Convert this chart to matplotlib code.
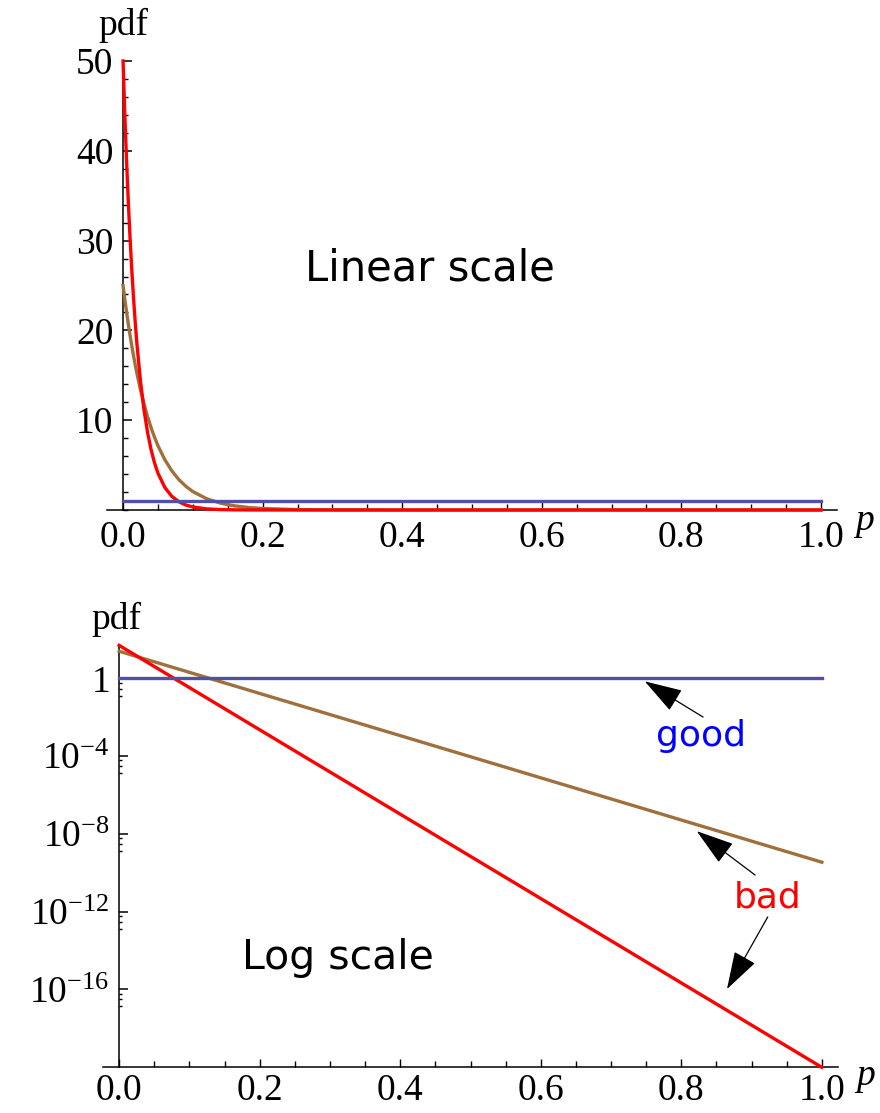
import numpy as np
import matplotlib
matplotlib.use("Agg")
from matplotlib import pyplot as plt
from matplotlib.ticker import MultipleLocator, FixedLocator, NullFormatter

# Sample points of the three densities
p_vals = [0.0, 0.0025, 0.005, 0.0075, 0.01, 0.0125, 0.015, 0.0175, 0.02, 0.025,
          0.03, 0.035, 0.04, 0.045, 0.05, 0.06, 0.07, 0.08, 0.09, 0.10,
          0.12, 0.14, 0.16, 0.18, 0.20, 0.25, 0.30, 0.50, 0.75, 1.0]
pdf_red = [50.0, 44.12, 38.94, 34.36, 30.33, 26.76, 23.62, 20.84, 18.39, 14.33,
           11.16, 8.69, 6.77, 5.27, 4.10, 2.49, 1.51, 0.916, 0.555, 0.337,
           0.124, 0.0456, 0.0168, 6.17e-3, 2.27e-3, 1.86e-4, 1.53e-5, 6.94e-10, 2.59e-15, 9.64e-21]
pdf_brown = [25.0, 23.48, 22.06, 20.73, 19.47, 18.29, 17.18, 16.14, 15.16, 13.38,
             11.81, 10.42, 9.20, 8.12, 7.16, 5.58, 4.35, 3.38, 2.64, 2.05,
             1.245, 0.755, 0.458, 0.278, 0.168, 0.0483, 0.0138, 9.32e-5, 1.80e-7, 3.47e-10]
pdf_blue = [1.0] * len(p_vals)

lin_ticks = [10, 20, 30, 40, 50]
log_ticks = [1e-16, 1e-12, 1e-8, 1e-4, 1.0]
log_labels = [r'$10^{-16}$', r'$10^{-12}$', r'$10^{-8}$', r'$10^{-4}$', r'$1$']
x_ticks = [0.0, 0.2, 0.4, 0.6, 0.8, 1.0]

RED = '#ff0000'
BROWN = '#a0703c'
BLUE = '#5050aa'

plt.rcParams['mathtext.fontset'] = 'custom'
plt.rcParams['mathtext.rm'] = 'Liberation Serif'
plt.rcParams['mathtext.it'] = 'Liberation Serif:italic'

W, H = 880, 1113
fig = plt.figure(figsize=(W / 100, H / 100), dpi=100)

serif = 'Liberation Serif'
tick_fs = 27
lw = 2.4


def style_axes(ax, xpad):
    for s in ['top', 'right']:
        ax.spines[s].set_visible(False)
    ax.spines['left'].set_position(('data', 0))
    for s in ['left', 'bottom']:
        ax.spines[s].set_linewidth(1.1)
    ax.set_xlim(-0.023, 1.023)
    ax.set_xticks(x_ticks)
    ax.set_xticklabels([f'{t:.1f}' for t in x_ticks], fontfamily=serif, fontsize=tick_fs)
    ax.xaxis.set_minor_locator(MultipleLocator(0.05))
    ax.tick_params(axis='x', which='major', direction='in', length=5.5, width=1.0,
                   pad=xpad, colors='black')
    ax.tick_params(axis='x', which='minor', direction='in', length=4, width=1.0)
    ax.tick_params(axis='y', which='major', direction='in', length=6.5, width=1.1,
                   pad=7, labelsize=tick_fs)
    ax.tick_params(axis='y', which='minor', direction='in', length=3.5, width=1.0)
    for lab in ax.get_yticklabels():
        lab.set_fontfamily(serif)


# Top panel: linear scale
ax1 = fig.add_axes([107 / W, (H - 510) / H, 730 / W, 449 / H])
ax1.plot(p_vals, pdf_brown, color=BROWN, lw=lw, clip_on=False, zorder=3)
ax1.plot(p_vals, pdf_red, color=RED, lw=lw, clip_on=False, zorder=3)
ax1.plot(p_vals, pdf_blue, color=BLUE, lw=lw, clip_on=False, zorder=4)
ax1.set_ylim(0, 50)
ax1.set_yticks(lin_ticks)
ax1.set_yticklabels([str(t) for t in lin_ticks], fontfamily=serif, fontsize=tick_fs)
ax1.yaxis.set_minor_locator(MultipleLocator(2))
style_axes(ax1, 7.5)
ax1.text(0.0, 52.9, 'pdf', fontfamily=serif, fontsize=tick_fs, ha='center', va='baseline',
         clip_on=False)
ax1.text(1.062, -2.2, 'p', fontfamily=serif, fontstyle='italic', fontsize=tick_fs,
         ha='center', va='baseline', clip_on=False)
ax1.text(0.44, 25.6, 'Linear scale', fontsize=30, ha='center', va='baseline')

# Bottom panel: log scale
ax2 = fig.add_axes([103 / W, 46 / H, 735 / W, 421.6 / H])
ax2.set_yscale('log')
ax2.plot(p_vals, pdf_brown, color=BROWN, lw=lw, clip_on=False, zorder=3)
ax2.plot(p_vals, pdf_red, color=RED, lw=lw, clip_on=False, zorder=3)
ax2.plot(p_vals, pdf_blue, color=BLUE, lw=lw, clip_on=False, zorder=4)
ax2.set_ylim(1e-20, 50)
ax2.yaxis.set_major_locator(FixedLocator(log_ticks))
ax2.set_yticklabels(log_labels, fontsize=tick_fs)
minor = [10.0 ** k * f for k in [-16, -12, -8, -4, 0] for f in [0.6, 0.3, 0.13]]
ax2.yaxis.set_minor_locator(FixedLocator(minor))
ax2.yaxis.set_minor_formatter(NullFormatter())
style_axes(ax2, 5.0)
ax2.tick_params(axis='y', which='minor', length=2.5)
ax2.text(-0.004, 10 ** 2.55, 'pdf', fontfamily=serif, fontsize=tick_fs, ha='center',
         va='baseline', clip_on=False)
ax2.text(1.062, 10 ** -20.95, 'p', fontfamily=serif, fontstyle='italic', fontsize=tick_fs,
         ha='center', va='baseline', clip_on=False)
ax2.text(0.311, 10 ** -14.96, 'Log scale', fontsize=29.5, ha='center', va='baseline')

arrow = dict(arrowstyle='-|>,head_length=2.4,head_width=0.76', mutation_scale=10,
             color='black', lw=0.9, shrinkA=0, shrinkB=0)
ax2.text(0.828, 10 ** -3.47, 'good', color='#0000ff', fontsize=26, ha='center', va='baseline')
ax2.annotate('', xy=(0.748, 10 ** -0.15), xytext=(0.831, 10 ** -1.99), arrowprops=arrow)
ax2.text(0.923, 10 ** -11.77, 'bad', color='#ff0000', fontsize=26, ha='center', va='baseline')
ax2.annotate('', xy=(0.822, 10 ** -7.86), xytext=(0.905, 10 ** -10.12), arrowprops=arrow)
ax2.annotate('', xy=(0.865, 10 ** -15.99), xytext=(0.923, 10 ** -12.28), arrowprops=arrow)

fig.savefig('out.png', dpi=100)
